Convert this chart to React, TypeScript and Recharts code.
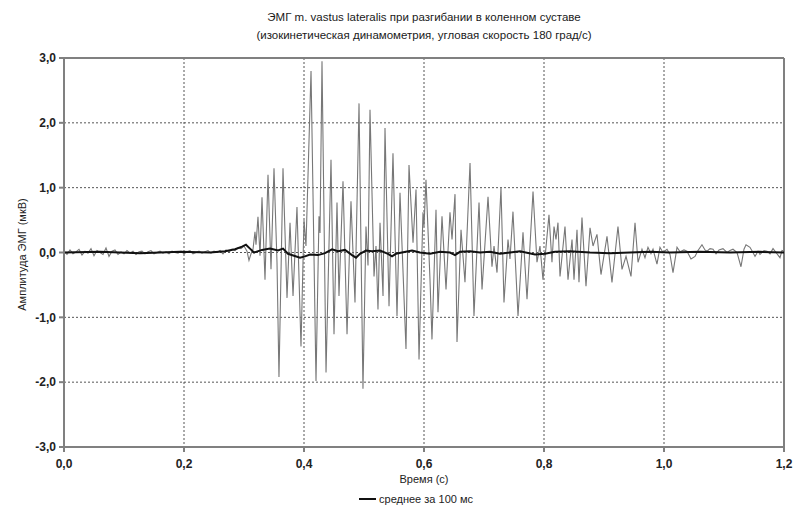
import React from 'react';
import { LineChart, Line, XAxis, YAxis, CartesianGrid, ReferenceLine, Legend } from 'recharts';

const titleLines = [
  'ЭМГ m. vastus lateralis при разгибании в коленном суставе',
  '(изокинетическая динамометрия, угловая скорость 180 град/с)',
];
const xLabel = 'Время (с)';
const yLabel = 'Амплитуда ЭМГ (мкВ)';
const legendLabel = 'среднее за 100 мс';

const xTicks = [0, 0.2, 0.4, 0.6, 0.8, 1.0, 1.2];
const yTicks = [-3, -2, -1, 0, 1, 2, 3];

// raw EMG signal (time, s)
const emgTime = [
  0, 0.005, 0.01, 0.015, 0.02, 0.025, 0.03, 0.035, 0.04, 0.045,
  0.05, 0.055, 0.06, 0.065, 0.07, 0.075, 0.08, 0.085, 0.09, 0.095,
  0.1, 0.105, 0.11, 0.115, 0.12, 0.125, 0.13, 0.135, 0.14, 0.145,
  0.15, 0.155, 0.16, 0.165, 0.17, 0.175, 0.18, 0.185, 0.19, 0.195,
  0.2, 0.205, 0.21, 0.215, 0.22, 0.225, 0.23, 0.235, 0.24, 0.245,
  0.25, 0.255, 0.26, 0.265, 0.27, 0.275, 0.28, 0.285, 0.29, 0.295,
  0.3, 0.305, 0.3083, 0.3117, 0.315,
  0.3183, 0.32, 0.3233, 0.3267, 0.33, 0.335, 0.34, 0.345, 0.35, 0.355,
  0.3583, 0.365, 0.3717, 0.3767, 0.3817, 0.3883, 0.395, 0.4, 0.4033, 0.4117,
  0.42, 0.425, 0.4267, 0.43, 0.4367, 0.445, 0.45, 0.455, 0.4583, 0.465,
  0.4717, 0.4783, 0.485, 0.4917, 0.4983, 0.5033, 0.5067, 0.51, 0.5167, 0.52,
  0.5233, 0.5267, 0.5317, 0.535, 0.5417, 0.5483, 0.555, 0.56, 0.57, 0.575,
  0.5817, 0.5867, 0.5917, 0.5983, 0.6, 0.6033, 0.61, 0.6133, 0.62, 0.6233,
  0.63, 0.6367, 0.6433, 0.6467, 0.6517, 0.655, 0.6617, 0.6683, 0.6767, 0.6833,
  0.6917, 0.6967, 0.7067, 0.7133, 0.7167, 0.7217, 0.7283, 0.7333, 0.74, 0.7433,
  0.7483, 0.7567, 0.765, 0.7717, 0.7817, 0.7883, 0.7933, 0.7983, 0.8083, 0.8133,
  0.8167, 0.82, 0.8233, 0.8267, 0.835, 0.84, 0.8467, 0.85, 0.855, 0.8583,
  0.8633, 0.87, 0.8767, 0.8817, 0.8883, 0.895, 0.905, 0.9133, 0.9233, 0.93,
  0.9367, 0.945, 0.9517, 0.9567, 0.9633, 0.9683, 0.9733, 0.9783, 0.9817, 0.9883,
  0.9933, 0.9983, 1.005, 1.01, 1.015, 1.0217, 1.0267, 1.0333, 1.0383, 1.045,
  1.0517, 1.0567, 1.0633, 1.0683, 1.0717, 1.0767, 1.0817, 1.0867, 1.0917, 1.0983,
  1.105, 1.11, 1.115, 1.1217, 1.1283, 1.1333, 1.1367, 1.1433, 1.1483, 1.1517,
  1.1567, 1.16, 1.1667, 1.1717, 1.1767, 1.1817, 1.1867, 1.1933, 1.1967, 1.2,
];
const emgValue = [
  0.02, -0.03, 0.04, -0.02, 0.01, 0.05, -0.04, 0.02, -0.01, 0.06,
  -0.05, 0.03, 0.0, -0.03, 0.07, -0.06, 0.02, 0.04, -0.03, 0.01,
  -0.02, 0.03, -0.01, 0.02, -0.03, 0.01, 0.02, -0.02, 0.01, 0.03,
  -0.02, 0.0, 0.02, -0.01, 0.01, -0.02, 0.02, 0.0, -0.01, 0.02,
  -0.02, 0.01, 0.03, -0.02, 0.0, 0.02, -0.01, 0.01, 0.03, -0.01,
  0.02, 0.0, 0.03, -0.02, 0.04, 0.01, 0.05, 0.03, 0.07, 0.06,
  0.1, 0.02, -0.12, -0.02, 0.05,
  0.32, 0.12, 0.55, -0.05, 0.85, -0.42, 1.2, -0.26, 1.3, -0.15,
  -1.92, 1.3, -0.7, 0.46, -0.67, 0.7, -1.45, 0.5, 0.1, 2.8,
  -1.98, 0.56, 0.3, 2.95, -1.85, 1.43, -1.26, 0.77, -0.67, 1.1,
  -1.26, 0.79, -0.77, 2.3, -2.1, 0.4, -0.2, 2.2, -0.37, 0.1,
  -0.88, 0.46, -0.67, 1.92, -0.83, 1.53, -0.98, 0.92, -1.49, 1.35,
  0.15, 0.97, -1.65, 0.62, 0.4, 1.12, -0.42, -1.34, 0.66, -0.92,
  0.56, -0.57, 0.62, 0.2, 0.9, -1.38, 0.35, -0.46, 1.38, -0.98,
  0.77, -0.57, 0.86, -0.22, 0.1, -0.31, 1.0, -0.77, 0.2, -0.1,
  0.63, -0.98, 0.31, -0.72, 0.94, -0.15, 0.1, -0.42, 0.58, -0.15,
  0.4, 0.2, 0.46, -0.37, 0.4, -0.42, 0.2, -0.42, 0.35, -0.46,
  0.54, -0.52, 0.38, 0.1, 0.28, -0.34, 0.25, -0.46, 0.4, -0.26,
  -0.06, -0.37, 0.46, -0.15, 0.05, -0.08, 0.08, -0.02, 0.05, -0.18,
  0.08, 0.0, 0.05, -0.03, -0.31, 0.08, 0.01, 0.04, 0.02, -0.1,
  -0.06, 0.03, 0.12, 0.04, 0.02, 0.06, 0.05, -0.02, 0.04, 0.06,
  0.0, 0.03, 0.05, 0.0, -0.22, 0.05, 0.12, 0.08, 0.0, -0.06,
  0.02, -0.03, 0.03, 0.02, -0.02, 0.06, 0.0, -0.08, 0.03, 0.02,
];

// 100 ms moving average
const avgTime = [
  0, 0.06, 0.1267, 0.1933, 0.2433, 0.2683, 0.285, 0.2967, 0.3033, 0.31,
  0.3167, 0.33, 0.3433, 0.3567, 0.365, 0.3733, 0.3833, 0.3933, 0.4017, 0.41,
  0.4233, 0.435, 0.4467, 0.4567, 0.4683, 0.48, 0.4867, 0.4933, 0.5033, 0.5133,
  0.5267, 0.54, 0.5467, 0.5533, 0.5633, 0.58, 0.5933, 0.61, 0.6267, 0.6433,
  0.6517, 0.66, 0.6767, 0.6933, 0.71, 0.7267, 0.7433, 0.76, 0.785, 0.8017,
  0.8183, 0.8433, 0.8767, 0.91, 0.9433, 0.9767, 1.01, 1.06, 1.11, 1.16, 1.2,
];
const avgValue = [
  0.0, 0.01, -0.01, 0.01, 0.0, 0.02, 0.05, 0.09, 0.12, 0.06,
  0.0, 0.04, 0.06, 0.03, 0.06, -0.02, -0.05, -0.08, -0.06, -0.03,
  -0.04, -0.01, 0.05, 0.02, 0.04, -0.04, -0.08, -0.02, 0.03, 0.02,
  0.03, -0.02, -0.06, -0.02, 0.0, 0.03, 0.0, -0.02, 0.01, 0.0,
  -0.04, 0.01, 0.02, 0.0, 0.01, -0.02, 0.0, 0.02, -0.03, -0.02,
  0.01, 0.02, 0.0, -0.01, 0.0, 0.01, 0.0, 0.01, 0.0, 0.01, 0.0,
];

const emgData = emgTime.map((t, i) => ({ t, v: emgValue[i] }));
const avgData = avgTime.map((t, i) => ({ t, v: avgValue[i] }));

const FONT = '"Liberation Sans", Arial, sans-serif';
const fmt = (v: number) => v.toFixed(1).replace('.', ',');

const LegendContent = () => (
  <div
    style={{
      display: 'flex',
      justifyContent: 'center',
      alignItems: 'center',
      fontFamily: FONT,
      fontSize: 11,
      color: '#222',
      height: 16,
      paddingTop: 2,
    }}
  >
    <svg width={17} height={10} style={{ marginRight: 3 }}>
      <line x1={0} y1={5} x2={17} y2={5} stroke="#111" strokeWidth={2} />
    </svg>
    <span>{legendLabel}</span>
  </div>
);

export default function App() {
  return (
    <div style={{ position: 'absolute', left: 0, top: 0, width: 795, height: 505, background: '#fff' }}>
      <div
        style={{
          position: 'absolute',
          left: 64,
          top: 8,
          width: 720,
          textAlign: 'center',
          fontFamily: FONT,
          fontSize: 11.5,
          lineHeight: '18px',
          color: '#1a1a1a',
          zIndex: 2,
        }}
      >
        {titleLines.map((l) => (
          <div key={l}>{l}</div>
        ))}
      </div>
      <LineChart
        width={795}
        height={505}
        margin={{ top: 58, right: 11, left: 0, bottom: 0 }}
        style={{ fontFamily: FONT }}
      >
        <CartesianGrid stroke="#555" strokeDasharray="2 2" strokeWidth={1} />
        <XAxis
          dataKey="t"
          type="number"
          domain={[0, 1.2]}
          ticks={xTicks}
          tickFormatter={fmt}
          allowDataOverflow
          height={42}
          tickSize={5}
          tickMargin={7}
          stroke="#808080"
          strokeWidth={2}
          tick={{ fill: '#222', fontSize: 12, fontWeight: 'bold', fontFamily: FONT }}
          label={{ value: xLabel, position: 'insideTop', offset: 28, fill: '#222', fontSize: 11, fontFamily: FONT }}
        />
        <YAxis
          type="number"
          domain={[-3, 3]}
          ticks={yTicks}
          tickFormatter={fmt}
          width={64}
          tickSize={5}
          tickMargin={3}
          stroke="#808080"
          strokeWidth={2}
          tick={{ fill: '#222', fontSize: 12, fontWeight: 'bold', fontFamily: FONT }}
          label={{ value: yLabel, angle: -90, position: 'center', dx: -10, dy: 2, fill: '#222', fontSize: 11, fontFamily: FONT }}
        />
        <ReferenceLine y={3} stroke="#808080" strokeWidth={2} />
        <ReferenceLine x={1.2} stroke="#808080" strokeWidth={2} />
        <Legend
          verticalAlign="bottom"
          height={16}
          content={LegendContent}
          wrapperStyle={{ left: 37, width: 758 }}
        />
        <Line
          data={emgData}
          dataKey="v"
          type="linear"
          stroke="#777"
          strokeWidth={1.1}
          dot={false}
          activeDot={false}
          legendType="none"
          isAnimationActive={false}
        />
        <Line
          data={avgData}
          dataKey="v"
          name={legendLabel}
          type="linear"
          stroke="#111"
          strokeWidth={2}
          dot={false}
          activeDot={false}
          isAnimationActive={false}
        />
      </LineChart>
    </div>
  );
}
